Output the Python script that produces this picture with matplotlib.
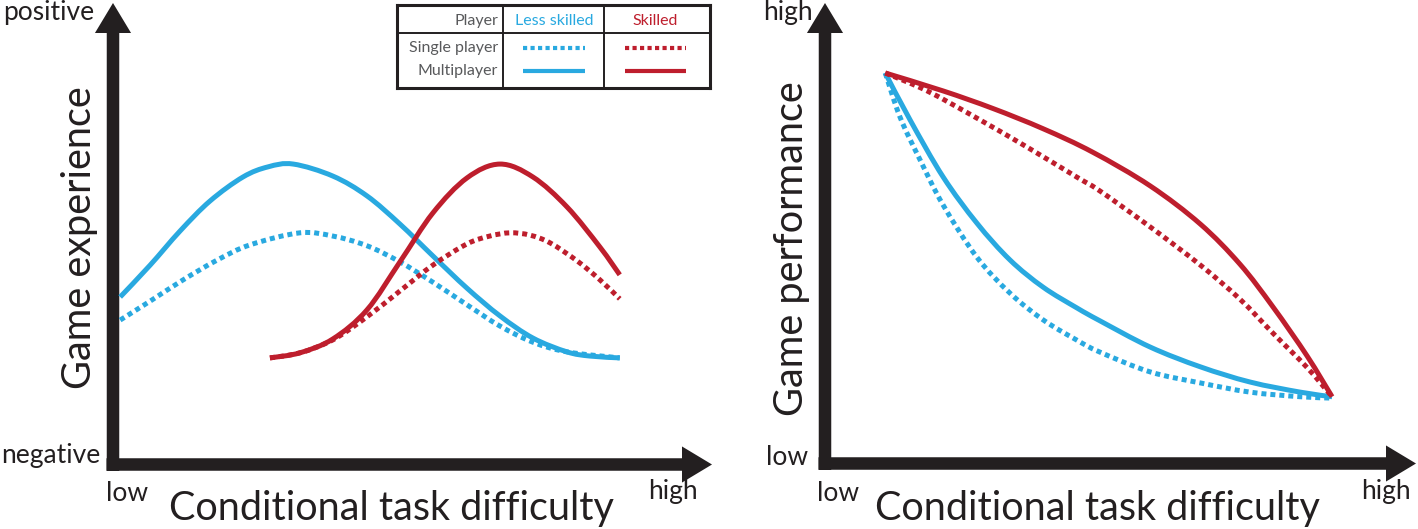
import matplotlib
matplotlib.use("Agg")
import matplotlib.pyplot as plt
from matplotlib.patches import FancyArrowPatch, PathPatch
from matplotlib.path import Path
from matplotlib.lines import Line2D

# ── Data (both panels on a 0-10 scale) ────────────────────────────────────────

# left panel: game experience vs conditional task difficulty
exp_less_multi_x = [0.12, 0.62, 1.12, 1.62, 2.17, 2.59, 3.01, 3.67, 4.24, 4.79, 5.34, 5.91, 6.46, 7.01, 7.58, 7.96, 8.46]
exp_less_multi_y = [3.63, 4.32, 5.06, 5.71, 6.23, 6.45, 6.51, 6.25, 5.82, 5.21, 4.52, 3.82, 3.22, 2.74, 2.44, 2.35, 2.31]
exp_less_single_x = [0.12, 0.62, 1.17, 1.74, 2.29, 3.12, 3.67, 4.24, 4.79, 5.34, 5.91, 6.46, 7.01, 7.58, 8.46]
exp_less_single_y = [3.13, 3.54, 4.00, 4.43, 4.76, 5.02, 4.95, 4.74, 4.39, 3.95, 3.46, 3.00, 2.65, 2.44, 2.31]
exp_skill_multi_x = [2.62, 3.12, 3.67, 4.24, 4.79, 5.34, 5.91, 6.46, 7.01, 7.58, 8.13, 8.46]
exp_skill_multi_y = [2.31, 2.42, 2.72, 3.35, 4.39, 5.45, 6.21, 6.51, 6.23, 5.58, 4.71, 4.11]
exp_skill_single_x = [2.62, 3.12, 3.67, 4.24, 4.79, 5.34, 5.91, 6.29, 6.63, 6.96, 7.30, 7.75, 8.13, 8.46]
exp_skill_single_y = [2.31, 2.42, 2.70, 3.20, 3.76, 4.32, 4.78, 4.95, 5.02, 4.97, 4.80, 4.41, 4.00, 3.59]

# right panel: game performance vs conditional task difficulty
perf_less_multi_x = [1.02, 1.44, 2.00, 2.57, 3.13, 3.69, 4.26, 4.65, 5.50, 6.35, 7.19, 8.04, 8.58]
perf_less_multi_y = [8.48, 7.46, 6.22, 5.22, 4.42, 3.83, 3.38, 3.10, 2.53, 2.10, 1.77, 1.55, 1.45]
perf_less_single_x = [1.02, 1.27, 1.61, 2.00, 2.57, 3.13, 3.69, 4.26, 4.65, 5.50, 6.35, 7.19, 8.04, 8.58]
perf_less_single_y = [8.48, 7.52, 6.59, 5.61, 4.48, 3.70, 3.12, 2.68, 2.42, 1.99, 1.75, 1.55, 1.45, 1.42]
perf_skill_multi_x = [1.02, 2.00, 2.84, 3.69, 4.53, 5.50, 6.35, 7.02, 7.58, 8.16, 8.58]
perf_skill_multi_y = [8.48, 8.09, 7.71, 7.27, 6.76, 6.03, 5.20, 4.33, 3.40, 2.33, 1.45]
perf_skill_single_x = [1.02, 1.73, 2.57, 3.42, 4.26, 4.65, 5.50, 6.35, 7.02, 7.58, 8.16, 8.58]
perf_skill_single_y = [8.48, 8.09, 7.50, 6.87, 6.22, 5.92, 5.14, 4.31, 3.57, 2.83, 2.08, 1.45]

# legend table
groups = ["Less skilled", "Skilled"]
modes = ["Single player", "Multiplayer"]

# ── Style ────────────────────────────────────────────────────────────────────

BLUE = "#29A9E0"
RED = "#BE1E2D"
INK = "#231F20"
GREY = "#58595B"
DOTTED = (0, (1, 0.8))

plt.rcParams["font.family"] = ["Lato", "DejaVu Sans"]

W, H, DPI = 1418, 529, 100
BIG = 28.5
SMALL = 19
LEG = 11.5


def _fx(px):
    return px / W


def _fy(py):
    return 1 - py / H


def _arrow_axes(fig, x0, y0, x1, y1):
    """Axes whose origin is at pixel (x0, y0) and whose arrow tips are x1 / y1."""
    ax = fig.add_axes([_fx(x0), _fy(y0), (x1 - x0) / W, (y0 - y1) / H])
    ax.set_xlim(0, 10)
    ax.set_ylim(0, 10)
    ax.axis("off")
    dx = 6.5 / (x1 - x0)
    dy = 6.5 / (y0 - y1)
    style = "simple,head_length=2.16,head_width=2.6,tail_width=0.9"
    for a, b in [((-dx, 0), (1, 0)), ((0, -dy), (0, 1))]:
        ax.add_patch(FancyArrowPatch(a, b, transform=ax.transAxes, arrowstyle=style,
                                     mutation_scale=10, fc=INK, ec="none", lw=0,
                                     shrinkA=0, shrinkB=0, clip_on=False))
    return ax


def _smooth_path(x, y):
    """Catmull-Rom curve through the read points, as cubic Bezier segments."""
    pts = list(zip(x, y))
    verts, codes = [pts[0]], [Path.MOVETO]
    for i in range(len(pts) - 1):
        p0 = pts[i - 1] if i > 0 else pts[i]
        p1, p2 = pts[i], pts[i + 1]
        p3 = pts[i + 2] if i + 2 < len(pts) else pts[i + 1]
        c1 = (p1[0] + (p2[0] - p0[0]) / 6, p1[1] + (p2[1] - p0[1]) / 6)
        c2 = (p2[0] - (p3[0] - p1[0]) / 6, p2[1] - (p3[1] - p1[1]) / 6)
        verts += [c1, c2, p2]
        codes += [Path.CURVE4] * 3
    return Path(verts, codes)


def _curve(ax, x, y, color, dotted):
    ax.add_patch(PathPatch(_smooth_path(x, y), fill=False, ec=color, lw=3.6,
                           ls=DOTTED if dotted else "-", capstyle="butt",
                           joinstyle="round", clip_on=False))


fig = plt.figure(figsize=(W / DPI, H / DPI), dpi=DPI)

# ── Left panel ───────────────────────────────────────────────────────────────

ax1 = _arrow_axes(fig, 113, 464.5, 712, 3)
_curve(ax1, exp_less_single_x, exp_less_single_y, BLUE, True)
_curve(ax1, exp_less_multi_x, exp_less_multi_y, BLUE, False)
_curve(ax1, exp_skill_single_x, exp_skill_single_y, RED, True)
_curve(ax1, exp_skill_multi_x, exp_skill_multi_y, RED, False)

fig.text(_fx(3), _fy(20), "positive", fontsize=SMALL, color=INK, ha="left", va="baseline")
fig.text(_fx(100), _fy(463), "negative", fontsize=SMALL, color=INK, ha="right", va="baseline")
fig.text(_fx(106), _fy(501), "low", fontsize=SMALL, color=INK, ha="left", va="baseline")
fig.text(_fx(698), _fy(499), "high", fontsize=SMALL, color=INK, ha="right", va="baseline")
fig.text(_fx(391), _fy(520), "Conditional task difficulty", fontsize=BIG, color=INK,
         ha="center", va="baseline")
fig.text(_fx(80), _fy(238), "Game experience", fontsize=BIG, color=INK,
         ha="center", va="center", rotation=90)

# ── Right panel ──────────────────────────────────────────────────────────────

ax2 = _arrow_axes(fig, 825, 463.5, 1416, 3)
_curve(ax2, perf_less_single_x, perf_less_single_y, BLUE, True)
_curve(ax2, perf_less_multi_x, perf_less_multi_y, BLUE, False)
_curve(ax2, perf_skill_single_x, perf_skill_single_y, RED, True)
_curve(ax2, perf_skill_multi_x, perf_skill_multi_y, RED, False)

fig.text(_fx(813), _fy(20), "high", fontsize=SMALL, color=INK, ha="right", va="baseline")
fig.text(_fx(808), _fy(465), "low", fontsize=SMALL, color=INK, ha="right", va="baseline")
fig.text(_fx(817), _fy(501), "low", fontsize=SMALL, color=INK, ha="left", va="baseline")
fig.text(_fx(1411), _fy(499), "high", fontsize=SMALL, color=INK, ha="right", va="baseline")
fig.text(_fx(1097), _fy(520), "Conditional task difficulty", fontsize=BIG, color=INK,
         ha="center", va="baseline")
fig.text(_fx(791), _fy(249), "Game performance", fontsize=BIG, color=INK,
         ha="center", va="center", rotation=90)

# ── Legend table ─────────────────────────────────────────────────────────────

leg = fig.add_axes([_fx(397), _fy(88), 313 / W, 83 / H])
leg.set_xlim(0, 1)
leg.set_ylim(0, 1)
leg.set_xticks([])
leg.set_yticks([])
for s in leg.spines.values():
    s.set_linewidth(2.2)
    s.set_color(INK)
leg.axhline(0.663, color=INK, lw=1.4)
leg.axvline(0.339, color=INK, lw=1.4)
leg.axvline(0.661, color=INK, lw=1.4)

leg.text(0.323, 0.807, "Player", fontsize=LEG, color=GREY, ha="right", va="center")
col_x = [0.502, 0.826]
for gx, name, color in zip(col_x, groups, [BLUE, RED]):
    leg.text(gx, 0.807, name, fontsize=LEG, color=color, ha="center", va="center")
row_y = [0.482, 0.205]
for ry, mode, dotted in zip(row_y, modes, [True, False]):
    leg.text(0.323, ry, mode, fontsize=LEG, color=GREY, ha="right", va="center")
    for gx, color in zip(col_x, [BLUE, RED]):
        leg.add_line(Line2D([gx - 0.098, gx + 0.098], [ry, ry], color=color, lw=3.0,
                            ls=DOTTED if dotted else "-", solid_capstyle="butt",
                            dash_capstyle="butt"))

fig.savefig("out.png", dpi=DPI)
